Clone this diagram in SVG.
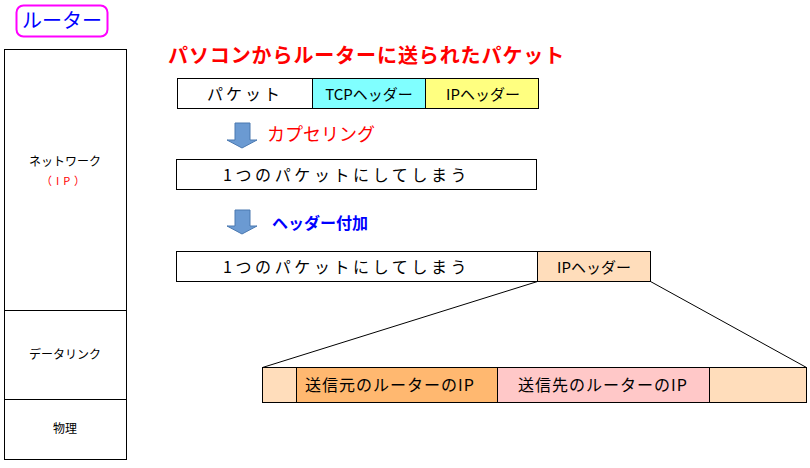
<svg xmlns="http://www.w3.org/2000/svg" width="810" height="468" viewBox="0 0 810 468">
<style>
text{font-family:"Noto Sans CJK JP","Noto Sans",sans-serif;}
.box{stroke:#000;stroke-width:1;}
.t16{font-size:16px;fill:#000;}
.t12{font-size:12px;fill:#000;}
.arrow{fill:#6B9AD2;stroke:#4A78B0;stroke-width:1;}
</style>
<rect width="810" height="468" fill="#fff"/>
<g id="router-label">
<rect x="16.5" y="5.5" width="91" height="31" rx="7" fill="#fff" stroke="#FF00FF" stroke-width="2"/>
<text x="62" y="28" font-size="20" fill="#0000FF" text-anchor="middle">ルーター</text>
</g>
<g id="layer-network">
<rect class="box" x="4.5" y="49.5" width="122" height="261" fill="#fff"/>
<text class="t12" x="65" y="166" text-anchor="middle">ネットワーク</text>
<text x="65" y="185" font-size="11" fill="#FF0000" text-anchor="middle" letter-spacing="4">（IP）</text>
</g>
<g id="layer-datalink">
<rect class="box" x="4.5" y="310.5" width="122" height="89" fill="#fff"/>
<text class="t12" x="65" y="359" text-anchor="middle">データリンク</text>
</g>
<g id="layer-physical">
<rect class="box" x="4.5" y="399.5" width="122" height="60" fill="#fff"/>
<text class="t12" x="65" y="433" text-anchor="middle">物理</text>
</g>
<g id="title">
<text x="168" y="63" font-size="20" font-weight="bold" fill="#FF0000" letter-spacing="0.9">パソコンからルーターに送られたパケット</text>
</g>
<g id="packet-row">
<rect class="box" x="177.5" y="78.5" width="135" height="30" fill="#fff"/>
<text class="t16" x="245" y="100" text-anchor="middle" letter-spacing="3">パケット</text>
<rect class="box" x="312.5" y="78.5" width="113" height="30" fill="#80FFFF"/>
<text x="369" y="100" font-size="15" fill="#000" text-anchor="middle">TCPヘッダー</text>
<rect class="box" x="425.5" y="78.5" width="113" height="30" fill="#FFFF80"/>
<text x="483" y="100" font-size="15" fill="#000" text-anchor="middle">IPヘッダー</text>
</g>
<g id="step-encapsulation">
<path class="arrow" d="M235,123 H250 V140 H257 L242,148 L227,140 H235 Z"/>
<text x="267" y="141" font-size="18" fill="#FF0000">カプセリング</text>
</g>
<g id="single-packet">
<rect class="box" x="176.5" y="159.5" width="360" height="30" fill="#fff"/>
<text class="t16" x="223" y="181" letter-spacing="3.6">1つのパケットにしてしまう</text>
</g>
<g id="step-header">
<path class="arrow" d="M235,210 H250 V226 H257 L242,234 L227,226 H235 Z"/>
<text x="272" y="229" font-size="16" font-weight="bold" fill="#0000FF">ヘッダー付加</text>
</g>
<g id="packet-with-header">
<rect class="box" x="176.5" y="251.5" width="361" height="30" fill="#fff"/>
<text class="t16" x="223" y="273" letter-spacing="3.6">1つのパケットにしてしまう</text>
</g>
<g id="ip-header">
<rect class="box" x="537.5" y="251.5" width="113" height="30" fill="#FFDDBB"/>
<text x="594" y="273" font-size="15" fill="#000" text-anchor="middle">IPヘッダー</text>
</g>
<g id="connectors" stroke="#000" stroke-width="1" fill="none">
<line x1="537.5" y1="281.5" x2="262.5" y2="367.5"/>
<line x1="650.5" y1="281.5" x2="806.5" y2="367.5"/>
</g>
<g id="ip-header-detail">
<rect class="box" x="262.5" y="367.5" width="34" height="35" fill="#FFDDBB"/>
<rect class="box" x="296.5" y="367.5" width="201" height="35" fill="#FFB870"/>
<text class="t16" x="305" y="391" letter-spacing="1">送信元のルーターのIP</text>
<rect class="box" x="497.5" y="367.5" width="212" height="35" fill="#FFC8C8"/>
<text class="t16" x="603" y="391" text-anchor="middle" letter-spacing="1">送信先のルーターのIP</text>
<rect class="box" x="709.5" y="367.5" width="97" height="35" fill="#FFDDBB"/>
</g>
</svg>
